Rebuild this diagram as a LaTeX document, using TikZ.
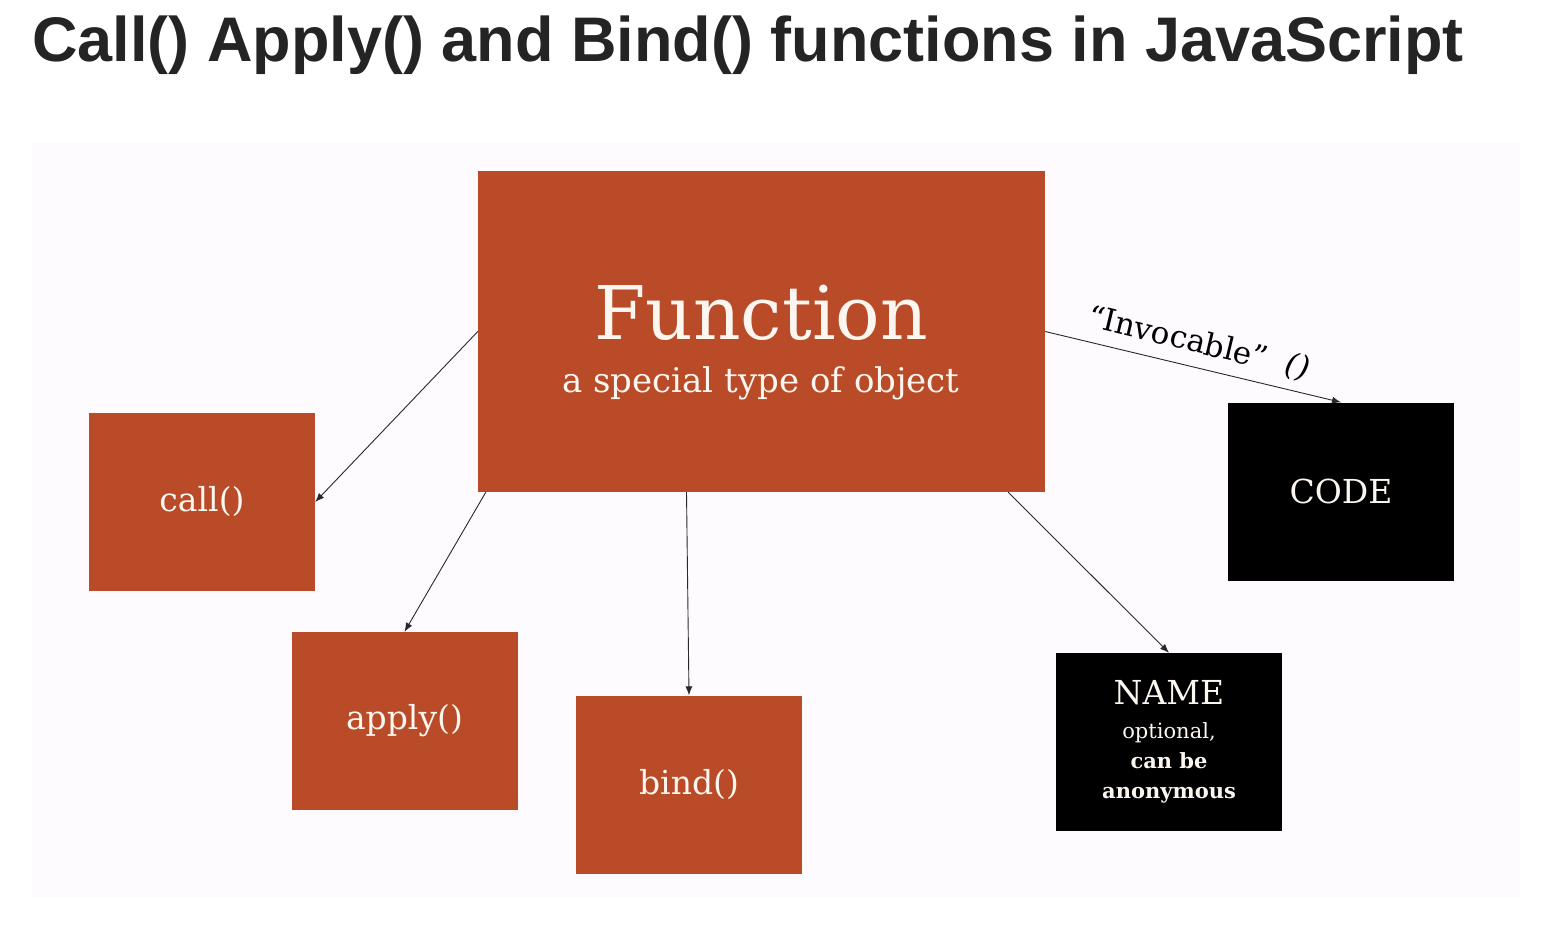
\documentclass[tikz,border=0pt]{standalone}
\usepackage{xcolor}
\usepackage{fontspec}
\usepackage{tikz}
\usetikzlibrary{arrows.meta}
\setmainfont{DejaVu Serif}
\newfontfamily\headfont{Liberation Sans}
\definecolor{js-rust}{RGB}{185, 75, 40}
\definecolor{js-ink}{RGB}{36, 36, 36}
\definecolor{js-paper}{RGB}{253, 251, 253}
\definecolor{js-cream}{RGB}{252, 246, 240}
\definecolor{js-wire}{RGB}{40, 40, 44}

\begin{document}
\begin{tikzpicture}[x=1pt, y=-1pt,
    fnbox/.style={rectangle, fill=js-rust, text=js-cream, inner sep=0pt, minimum width=226pt, minimum height=178pt, align=center, font=\fontsize{33}{38}\selectfont},
    codebox/.style={rectangle, fill=black, text=js-cream, inner sep=0pt, minimum width=226pt, minimum height=178pt, align=center, font=\fontsize{33}{38}\selectfont},
    link/.style={-{Latex[length=9pt, width=7pt]}, line width=0.9pt, color=js-wire}]
    \useasboundingbox (0,0) rectangle (1546,928);
    \node[rectangle, fill=js-paper, inner sep=0pt, minimum width=1488pt, minimum height=754pt] (slide) at (776,520) {};
    \node[anchor=base west, inner sep=0pt, text=js-ink] (title) at (32,62) {\headfont\bfseries\fontsize{63}{70}\selectfont Call() Apply() and Bind() functions in JavaScript};

    \node[fnbox, minimum width=567pt, minimum height=321pt] (fn) at (761.5,331.5) {};
    \node[text=js-cream, inner sep=0pt] (fnname) at (761,313) {\fontsize{74}{80}\selectfont Function};
    \node[text=js-cream, inner sep=0pt] (fnsub) at (761,383) {\fontsize{34}{38}\selectfont a special type of object};

    \node[fnbox] (call) at (202,502) {call()};
    \node[fnbox] (apply) at (404.5,721) {apply()};
    \node[fnbox] (bind) at (689,784.5) {bind()};
    \node[codebox] (code) at (1341,491.5) {CODE};
    \node[codebox, font=\fontsize{21}{30}\selectfont] (name) at (1169,742) {{\fontsize{33}{38}\selectfont NAME}\\[4pt]
        optional,\\ \textbf{can be}\\ \textbf{anonymous}};

    \draw[link] (fn.west) -- (call.east);
    \draw[link] ([xshift=8pt]fn.south west) -- (apply.north);
    \draw[link] ([xshift=-75pt]fn.south) -- (bind.north);
    \draw[link] ([xshift=-37pt]fn.south east) -- (name.north);
    \draw[link] (fn.east) -- (code.north) node[midway, sloped, above=6pt, text=black]{\fontsize{31}{34}\selectfont ``Invocable''\hspace{0.6em}\textit{()}};
\end{tikzpicture}
\end{document}
